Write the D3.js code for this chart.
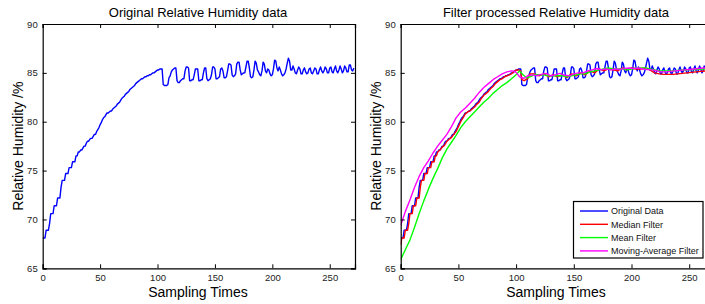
<!DOCTYPE html>
<html><head><meta charset="utf-8">
<script src="https://cdn.jsdelivr.net/npm/d3@7"></script>
<style>body{margin:0;background:#fff;} svg{display:block;font-family:"Liberation Sans",Arial,sans-serif;}</style>
</head><body>
<svg id="c" width="705" height="304"></svg>
<script>
// ---- data ----
const xTicks = [0, 50, 100, 150, 200, 250];
const yTicks = [65, 70, 75, 80, 85, 90];
const titles = ["Original Relative Humidity data", "Filter processed Relative Humidity data"];
const xLabel = "Sampling Times";
const yLabel = "Relative Humidity /%";
const legendLabels = ["Original Data", "Median Filter", "Mean Filter", "Moving-Average Filter"];

// original data, one value per sampling time 0..271
const original = [
68.1,68.1,68.1,68.9,68.9,68.9,69.6,70.6,70.6,70.6,
71.4,71.4,71.4,72.2,72.2,72.2,73.3,74.0,74.0,74.0,
74.7,74.7,74.7,75.3,75.3,75.3,75.9,75.9,75.9,76.5,
76.5,76.9,76.9,77.1,77.1,77.3,77.5,77.5,77.8,78.0,
78.0,78.2,78.3,78.3,78.5,78.7,78.7,79.0,79.2,79.4,
79.7,79.9,80.2,80.4,80.5,80.7,80.9,80.9,81.0,81.1,
81.1,81.3,81.4,81.5,81.6,81.8,81.9,82.0,82.2,82.4,
82.5,82.6,82.8,82.9,83.0,83.1,83.3,83.4,83.5,83.6,
83.7,83.9,84.0,84.1,84.2,84.3,84.4,84.4,84.5,84.6,
84.6,84.7,84.7,84.8,84.8,84.9,85.0,85.0,85.1,85.2,
85.3,85.3,85.4,85.4,85.4,83.8,83.7,83.7,83.7,83.8,
84.5,84.7,85.1,85.3,85.4,85.5,85.5,84.2,84.0,84.0,
84.2,84.3,84.4,84.4,85.2,85.6,85.6,85.5,84.2,84.2,
84.3,84.3,84.8,85.4,85.4,85.4,84.2,84.2,84.3,84.3,
85.0,85.5,85.5,84.4,84.2,84.3,84.4,84.8,85.6,85.6,
85.4,84.4,84.4,84.5,84.6,85.4,85.5,85.2,84.5,84.5,
84.6,85.2,85.9,85.9,85.8,84.8,84.6,84.7,84.9,85.9,
86.1,86.1,85.3,84.8,84.9,85.0,85.0,85.6,86.2,86.2,
85.5,84.6,84.5,84.6,85.3,86.2,86.0,85.3,85.1,84.8,
84.7,85.2,86.1,85.9,85.2,85.0,85.4,85.3,84.9,84.7,
84.8,85.4,86.3,86.2,85.5,85.2,85.6,85.3,84.9,84.7,
84.8,85.0,85.4,86.0,86.5,86.2,85.3,85.3,85.7,85.4,
85.0,84.9,85.3,85.6,85.4,84.9,84.9,85.3,85.5,85.1,
84.9,85.0,85.4,85.5,85.0,84.9,85.2,85.5,85.4,84.9,
84.9,85.3,85.6,85.2,85.0,85.2,85.6,85.4,85.0,85.0,
85.5,85.6,85.1,85.0,85.4,85.7,85.2,85.0,85.3,85.7,
85.4,85.0,85.2,85.7,85.5,85.1,85.1,85.8,85.8,85.3,
85.2,85.5];

const medianX = [0,1,3,4,6,7,8,10,11,13,14,16,17,18,20,21,23,24,26,27,29,30,31,32,34,36,38,40,42,44,46,48,50,52,54,56,58,60,62,64,66,68,70,72,74,76,78,80,82,84,86,88,90,92,94,96,98,100,102,104,105,107,110,112,116,120,124,128,132,136,140,144,148,152,156,160,164,168,172,176,180,184,188,192,196,200,204,208,212,216,220,224,228,232,236,240,244,248,252,256,260,264,268,271];
const medianY = [67.4,68.1,68.1,68.9,68.9,69.6,70.6,70.6,71.4,71.4,72.2,72.2,73.3,74.0,74.0,74.7,74.7,75.3,75.3,75.9,75.9,76.5,76.5,76.9,77.1,77.4,77.6,78.0,78.2,78.4,78.7,79.0,79.5,80.0,80.4,80.8,81.0,81.1,81.3,81.5,81.8,82.0,82.4,82.7,82.9,83.1,83.4,83.6,83.9,84.1,84.3,84.4,84.6,84.7,84.8,84.9,85.1,85.3,85.3,85.2,84.3,84.2,84.4,84.9,84.9,84.7,84.9,84.6,84.8,84.6,84.8,84.5,84.9,84.7,85.0,84.8,85.2,85.0,85.4,85.2,85.4,85.3,85.2,85.5,85.3,85.5,85.4,85.4,85.5,85.3,85.0,84.9,84.85,84.85,84.85,84.9,84.95,85.0,85.05,85.1,85.15,85.2,85.2,85.2];

const meanX = [0,4,8,12,16,20,24,28,32,36,40,44,48,52,56,60,64,68,72,76,80,84,88,92,96,100,103,106,109,112,116,120,124,128,132,136,140,144,148,152,156,160,164,168,172,176,180,184,188,192,196,200,204,208,212,216,220,224,228,232,236,240,244,248,252,256,260,264,268,271];
const meanY = [65.9,66.9,67.9,69.2,70.6,71.9,73.1,74.2,75.2,76.3,77.2,77.9,78.6,79.4,80.0,80.5,81.0,81.5,82.0,82.4,82.9,83.3,83.7,84.0,84.4,84.8,85.2,84.8,84.5,84.6,84.8,84.8,84.8,84.7,84.7,84.7,84.7,84.6,84.7,84.8,84.9,84.9,85.1,85.2,85.3,85.4,85.5,85.4,85.4,85.4,85.3,85.4,85.5,85.5,85.5,85.4,85.3,85.2,85.2,85.2,85.2,85.25,85.3,85.3,85.35,85.35,85.4,85.4,85.4,85.4];

const movAvgX = [0,4,8,12,16,20,24,28,32,36,40,44,48,52,56,60,64,68,72,76,80,84,88,92,96,99,101,103,106,108,110,114,118,122,126,130,134,138,142,146,150,154,158,162,166,170,174,178,182,186,190,194,198,202,206,210,214,218,222,226,230,234,238,242,246,250,254,258,262,266,271];
const movAvgY = [69.4,70.8,72.0,73.3,74.4,75.3,76.0,76.8,77.5,78.1,78.7,79.5,80.4,81.0,81.4,81.9,82.4,83.0,83.5,83.9,84.3,84.6,84.9,85.1,85.2,85.15,84.9,84.6,84.45,84.5,84.7,84.8,84.7,84.85,84.95,84.7,84.8,84.95,84.75,84.7,84.9,85.0,85.0,85.2,85.3,85.45,85.3,85.4,85.3,85.4,85.35,85.45,85.5,85.45,85.5,85.4,85.35,85.3,85.2,85.1,85.1,85.15,85.2,85.25,85.3,85.35,85.4,85.45,85.5,85.5,85.55];

const colors = ["#0000ff", "#ff0000", "#00ff00", "#ff00ff"];

// ---- drawing ----
const svg = d3.select("#c");
const panels = [
  {x0: 42.7, x1: 355, cx: 198},
  {x0: 400.7, x1: 714.6, cx: 556}
];
const yTop = 24, yBot = 268.3;
const y = d3.scaleLinear().domain([65, 90]).range([yBot, yTop]);

panels.forEach((p, i) => {
  const x = d3.scaleLinear().domain([0, 272]).range([p.x0, p.x1]);
  const g = svg.append("g");
  const clipId = "clip" + i;
  svg.append("clipPath").attr("id", clipId).append("rect")
    .attr("x", p.x0).attr("y", yTop).attr("width", p.x1 - p.x0).attr("height", yBot - yTop);

  const line = d3.line().x(d => x(d[0])).y(d => y(d[1]));
  const plotG = g.append("g").attr("clip-path", `url(#${clipId})`);
  const series = [original.map((v, k) => [k, v])];
  if (i === 1) {
    series.push(medianX.map((v, k) => [v, medianY[k]]));
    series.push(meanX.map((v, k) => [v, meanY[k]]));
    series.push(movAvgX.map((v, k) => [v, movAvgY[k]]));
  }
  series.forEach((s, k) => {
    plotG.append("path").attr("d", line(s)).attr("fill", "none")
      .attr("stroke", colors[k]).attr("stroke-width", 1.4).attr("stroke-linejoin", "round");
  });

  // axes (ticks inward, matlab style)
  const ax = g.append("g");
  const xb = d3.axisBottom(x).tickValues(xTicks).tickSize(-4).tickPadding(6);
  const xt = d3.axisTop(x).tickValues(xTicks).tickSize(-4).tickFormat("");
  const yl = d3.axisLeft(y).tickValues(yTicks).tickSize(-4).tickPadding(5);
  const yr = d3.axisRight(y).tickValues(yTicks).tickSize(-4).tickFormat("");
  [[xb, `translate(0,${yBot})`], [xt, `translate(0,${yTop})`], [yl, `translate(${p.x0},0)`], [yr, `translate(${p.x1},0)`]]
    .forEach(([a, t]) => {
      const gg = ax.append("g").attr("transform", t).call(a);
      gg.select(".domain").attr("stroke", "#000").attr("stroke-width", 1.2);
      gg.selectAll(".tick line").attr("stroke", "#000");
      gg.selectAll("text").attr("font-size", 9.5).attr("fill", "#222")
        .attr("font-family", "'Liberation Sans', Arial, sans-serif");
    });

  svg.append("text").attr("x", p.cx).attr("y", 16.5).attr("text-anchor", "middle")
    .attr("font-size", 13).attr("fill", "#000").text(titles[i]);
  svg.append("text").attr("x", p.cx).attr("y", 297).attr("text-anchor", "middle")
    .attr("font-size", 14).attr("fill", "#000").text(xLabel);
  svg.append("text").attr("transform", `translate(${p.x0 - 19.5},${(yTop + yBot) / 2}) rotate(-90)`)
    .attr("text-anchor", "middle").attr("font-size", 14).attr("fill", "#000").text(yLabel);

  if (i === 1) {
    const lg = svg.append("g");
    lg.append("rect").attr("x", 573.5).attr("y", 201.5).attr("width", 129.5).attr("height", 56.5)
      .attr("fill", "#fff").attr("stroke", "#000").attr("stroke-width", 1.2);
    legendLabels.forEach((t, k) => {
      const yy = 211 + k * 13.3;
      lg.append("line").attr("x1", 580).attr("x2", 608).attr("y1", yy).attr("y2", yy)
        .attr("stroke", colors[k]).attr("stroke-width", 1.4);
      lg.append("text").attr("x", 611).attr("y", yy + 3.3).attr("font-size", 9)
        .attr("fill", "#111").text(t);
    });
  }
});
</script>
</body></html>
